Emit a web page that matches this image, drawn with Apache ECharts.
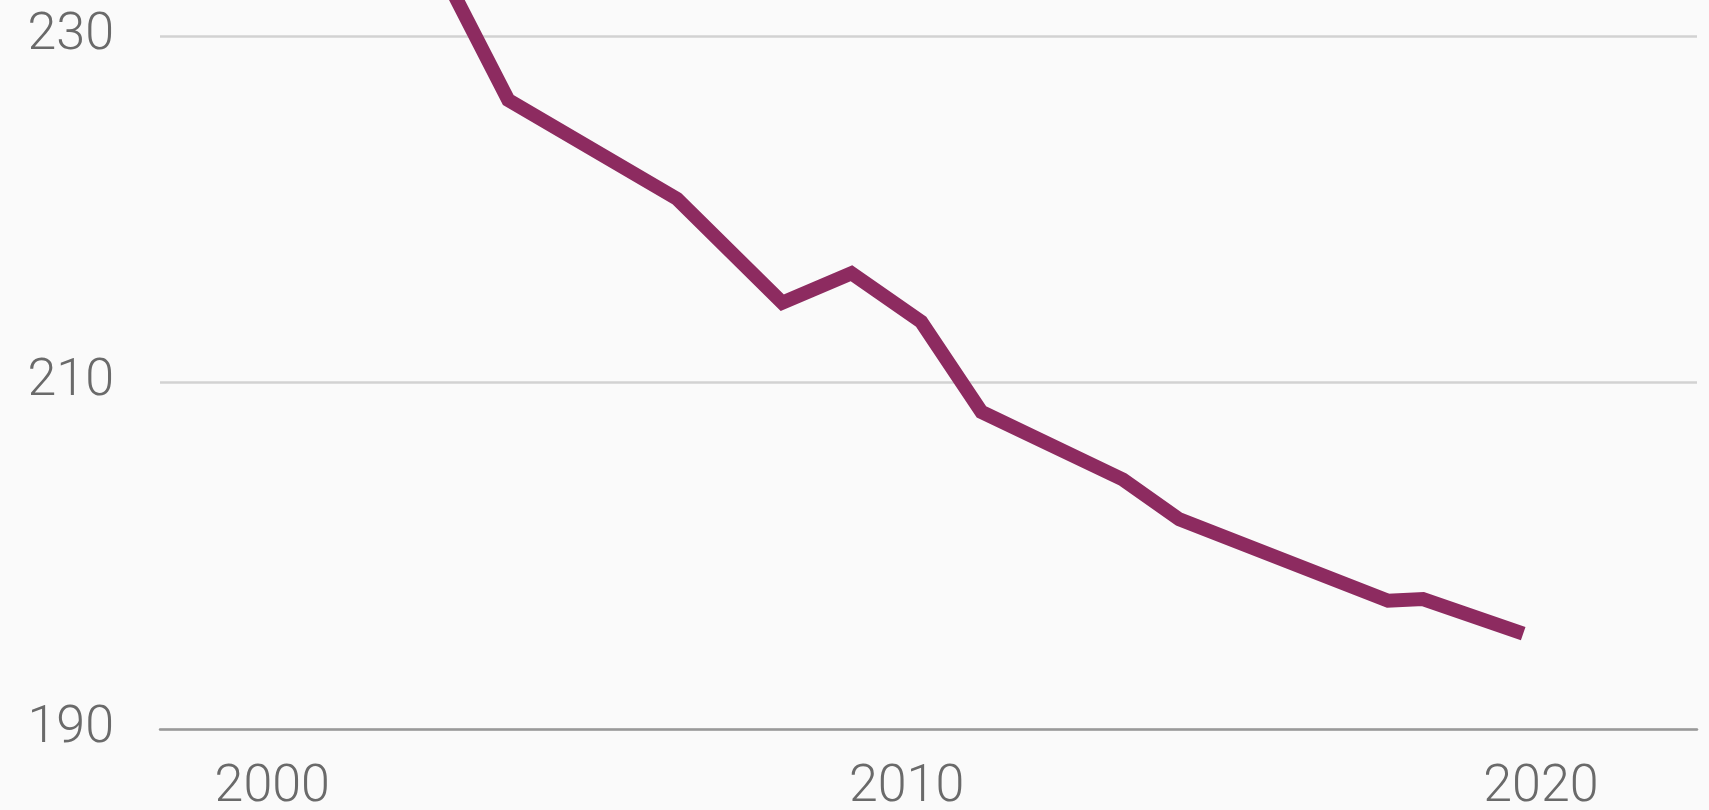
<!DOCTYPE html>
<html>
<head>
<meta charset="utf-8">
<script src="https://cdn.jsdelivr.net/npm/echarts@6/dist/echarts.min.js"></script>
<style>
html,body{margin:0;padding:0;background:#fafafa;}
#chart{width:1709px;height:810px;}
</style>
</head>
<body>
<div id="chart"></div>
<script>
// Data (x = decimal year, y = value)
var years  = [2002.5, 2003.72, 2006.38, 2008.04, 2009.13, 2010.23, 2011.18, 2013.41, 2014.30, 2017.59, 2018.14, 2019.72];
var values = [235.0, 226.3, 220.6, 214.6, 216.3, 213.5, 208.3, 204.4, 202.1, 197.4, 197.5, 195.5];
var xTickLabels = [2000, 2010, 2020];
var yTicks = [190, 210, 230, 250];

var points = years.map(function (y, i) { return [y, values[i]]; });

var chart = echarts.init(document.getElementById('chart'), null, {renderer: 'canvas'});
chart.setOption({
  backgroundColor: '#fafafa',
  animation: false,
  grid: { left: 160, right: 12, top: -310.6, bottom: 81, containLabel: false, outerBoundsMode: 'none' },
  xAxis: {
    type: 'value',
    min: 1998.23,
    max: 2022.46,
    axisLine: { show: true, lineStyle: { color: '#9a9a9a', width: 2.5 } },
    axisTick: { show: false },
    splitLine: { show: false },
    axisLabel: {
      customValues: xTickLabels,
      margin: 33,
      fontSize: 52,
      fontFamily: 'Roboto',
      fontWeight: 300,
      color: '#6a6a6a',
      formatter: function (v) { return String(Math.round(v)); }
    }
  },
  yAxis: {
    type: 'value',
    min: yTicks[0],
    max: yTicks[yTicks.length - 1],
    interval: 20,
    axisLine: { show: false },
    axisTick: { show: false },
    splitLine: { show: true, lineStyle: { color: '#d2d2d2', width: 2.5 } },
    axisLabel: {
      margin: 46,
      fontSize: 52,
      fontFamily: 'Roboto',
      fontWeight: 300,
      color: '#6a6a6a',
      padding: [9, 0, 0, 0]
    }
  },
  series: [{
    type: 'line',
    data: points,
    symbol: 'none',
    lineStyle: { color: '#8d2b60', width: 14, cap: 'butt', join: 'miter' }
  }]
});
</script>
</body>
</html>
